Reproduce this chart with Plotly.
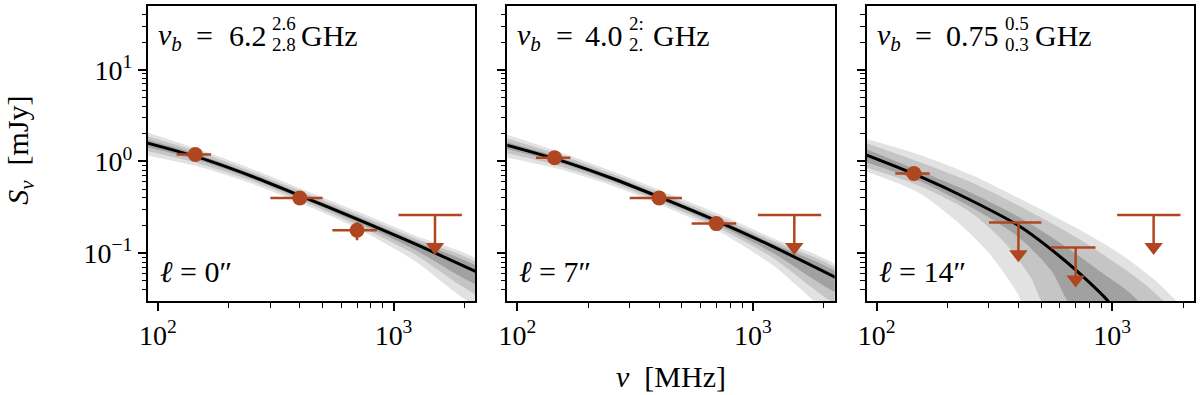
import plotly.graph_objects as go
from plotly.subplots import make_subplots

# ---------------- data ----------------
panel_labels = ["0", "7", "14"]
nub_main = ["6.2", "4.0", "0.75"]
nub_sup = ["2.6", "2:", "0.5"]
nub_sub = ["2.8", "2.", "0.3"]

# detections: frequency [MHz], half-width [MHz], flux [mJy], flux err [mJy]
p1_det_nu = [144, 400, 700]
p1_det_dnu = [24, 100, 150]
p1_det_S = [1.19, 0.40, 0.178]
p1_det_dS = [0.08, 0.03, 0.04]
p2_det_nu = [144, 400, 700]
p2_det_dnu = [24, 100, 150]
p2_det_S = [1.10, 0.40, 0.21]
p2_det_dS = [0.07, 0.03, 0.03]
p3_det_nu = [144]
p3_det_dnu = [24]
p3_det_S = [0.74]
p3_det_dS = [0.08]

# upper limits
p1_ul_nu = [1500]
p1_ul_dnu = [450]
p1_ul_S = [0.26]
p2_ul_nu = [1500]
p2_ul_dnu = [450]
p2_ul_S = [0.26]
p3_ul_nu = [400, 700, 1500]
p3_ul_dnu = [100, 150, 450]
p3_ul_S = [0.216, 0.115, 0.26]

# model median and credible bands
p12_nu = [85, 150, 250, 400, 700, 1200, 2400]
p1_med = [1.65, 1.10, 0.69, 0.425, 0.235, 0.130, 0.058]
p1_l_up = [2.17, 1.35, 0.83, 0.511, 0.286, 0.160, 0.075]
p1_l_lo = [1.19, 0.873, 0.574, 0.354, 0.187, 0.086, 0.0253]
p1_m_up = [1.96, 1.26, 0.774, 0.477, 0.267, 0.149, 0.069]
p1_m_lo = [1.34, 0.947, 0.615, 0.379, 0.202, 0.101, 0.0342]
p1_d_up = [1.79, 1.18, 0.731, 0.450, 0.251, 0.139, 0.0636]
p1_d_lo = [1.49, 1.026, 0.651, 0.401, 0.217, 0.113, 0.044]

p2_med = [1.57, 1.04, 0.66, 0.41, 0.225, 0.120, 0.050]
p2_l_up = [2.07, 1.28, 0.793, 0.493, 0.274, 0.148, 0.064]
p2_l_lo = [1.14, 0.826, 0.549, 0.341, 0.179, 0.0757, 0.019]
p2_m_up = [1.87, 1.19, 0.741, 0.46, 0.255, 0.138, 0.0595]
p2_m_lo = [1.28, 0.895, 0.588, 0.365, 0.194, 0.091, 0.0269]
p2_d_up = [1.70, 1.115, 0.699, 0.434, 0.240, 0.129, 0.0548]
p2_d_lo = [1.42, 0.970, 0.623, 0.387, 0.208, 0.103, 0.036]

p3_med_nu = [85, 150, 250, 400, 600, 800, 950, 1100]
p3_med = [1.25, 0.70, 0.38, 0.20, 0.092, 0.048, 0.031, 0.019]
p3_l_up_nu = [85, 150, 250, 400, 700, 1100, 1600, 2000]
p3_l_up = [1.85, 1.20, 0.72, 0.40, 0.19, 0.095, 0.045, 0.022]
p3_l_lo_nu = [85, 150, 220, 300, 400, 450]
p3_l_lo = [0.82, 0.46, 0.22, 0.10, 0.035, 0.018]
p3_m_up_nu = [85, 150, 250, 400, 700, 1100, 1500, 1800]
p3_m_up = [1.68, 1.00, 0.60, 0.33, 0.15, 0.07, 0.038, 0.022]
p3_m_lo_nu = [85, 150, 250, 350, 450, 550]
p3_m_lo = [0.90, 0.55, 0.28, 0.13, 0.055, 0.022]
p3_d_up_nu = [85, 150, 250, 400, 600, 900, 1200, 1400]
p3_d_up = [1.46, 0.80, 0.46, 0.25, 0.13, 0.062, 0.036, 0.022]
p3_d_lo_nu = [85, 150, 250, 400, 550, 700]
p3_d_lo = [1.03, 0.62, 0.32, 0.15, 0.065, 0.024]

x_tickvals = [100, 1000]
x_ticktext = ["10<sup>2</sup>", "10<sup>3</sup>"]
y_tickvals = [0.1, 1, 10]
y_ticktext = ["10<sup>−1</sup>", "10<sup>0</sup>", "10<sup>1</sup>"]

# ---------------- style ----------------
RUST = "#b0461f"
C_LIGHT = "#e2e2e2"
C_MID = "#c5c5c5"
C_DARK = "#a1a1a1"
FONT = "Liberation Serif"
FS = 30

fig = make_subplots(rows=1, cols=3, horizontal_spacing=32 / 1048)

panels = [
    dict(med_nu=p12_nu, med=p1_med,
         bands=[(p12_nu, p1_l_up, p12_nu, p1_l_lo, C_LIGHT),
                (p12_nu, p1_m_up, p12_nu, p1_m_lo, C_MID),
                (p12_nu, p1_d_up, p12_nu, p1_d_lo, C_DARK)],
         det=(p1_det_nu, p1_det_dnu, p1_det_S, p1_det_dS),
         ul=(p1_ul_nu, p1_ul_dnu, p1_ul_S)),
    dict(med_nu=p12_nu, med=p2_med,
         bands=[(p12_nu, p2_l_up, p12_nu, p2_l_lo, C_LIGHT),
                (p12_nu, p2_m_up, p12_nu, p2_m_lo, C_MID),
                (p12_nu, p2_d_up, p12_nu, p2_d_lo, C_DARK)],
         det=(p2_det_nu, p2_det_dnu, p2_det_S, p2_det_dS),
         ul=(p2_ul_nu, p2_ul_dnu, p2_ul_S)),
    dict(med_nu=p3_med_nu, med=p3_med,
         bands=[(p3_l_up_nu, p3_l_up, p3_l_lo_nu, p3_l_lo, C_LIGHT),
                (p3_m_up_nu, p3_m_up, p3_m_lo_nu, p3_m_lo, C_MID),
                (p3_d_up_nu, p3_d_up, p3_d_lo_nu, p3_d_lo, C_DARK)],
         det=(p3_det_nu, p3_det_dnu, p3_det_S, p3_det_dS),
         ul=(p3_ul_nu, p3_ul_dnu, p3_ul_S)),
]

ARROW = 0.45  # arrow length as a fraction of the limit (style)

for i, p in enumerate(panels):
    col = i + 1
    for (nu_up, s_up, nu_lo, s_lo, c) in p["bands"]:
        fig.add_trace(go.Scatter(
            x=list(nu_up) + list(nu_lo)[::-1],
            y=list(s_up) + list(s_lo)[::-1],
            mode="lines", fill="toself", fillcolor=c,
            line=dict(width=0, shape="spline", smoothing=0.8),
            hoverinfo="skip", showlegend=False), row=1, col=col)
    fig.add_trace(go.Scatter(
        x=p["med_nu"], y=p["med"], mode="lines",
        line=dict(color="black", width=3, shape="spline", smoothing=0.8),
        showlegend=False), row=1, col=col)
    nu, dnu, S, dS = p["det"]
    fig.add_trace(go.Scatter(
        x=nu, y=S, mode="markers",
        marker=dict(color=RUST, size=15, line=dict(width=0)),
        error_x=dict(type="data", array=dnu, color=RUST, thickness=2.5, width=0),
        error_y=dict(type="data", array=dS, color=RUST, thickness=2.5, width=0),
        showlegend=False), row=1, col=col)
    unu, udnu, uS = p["ul"]
    fig.add_trace(go.Scatter(
        x=unu, y=uS, mode="markers", marker=dict(size=1, opacity=0),
        error_x=dict(type="data", array=udnu, color=RUST, thickness=2.5, width=0),
        error_y=dict(type="data", array=[0] * len(uS),
                     arrayminus=[s * (1 - ARROW) for s in uS],
                     color=RUST, thickness=2.5, width=0),
        showlegend=False), row=1, col=col)
    fig.add_trace(go.Scatter(
        x=unu, y=[s * ARROW for s in uS], mode="markers",
        marker=dict(symbol="triangle-down", color=RUST, size=16, line=dict(width=0)),
        showlegend=False), row=1, col=col)

axis_common = dict(type="log", showline=True, mirror=True, linecolor="black",
                   linewidth=2, ticks="outside", ticklen=8, tickwidth=1.5,
                   tickcolor="black", showgrid=False, zeroline=False,
                   tickfont=dict(family=FONT, size=28, color="black"),
                   minor=dict(ticks="outside", ticklen=4.5, tickwidth=1.2,
                              tickcolor="black", dtick="D1", showgrid=False))

for i in range(3):
    xa = "xaxis" if i == 0 else f"xaxis{i+1}"
    ya = "yaxis" if i == 0 else f"yaxis{i+1}"
    fig.layout[xa].update(range=[1.9576, 3.3475], tickvals=x_tickvals,
                          ticktext=x_ticktext, **axis_common)
    fig.layout[ya].update(range=[-1.5217, 1.6957], tickvals=y_tickvals,
                          ticktext=y_ticktext, showticklabels=(i == 0),
                          **axis_common)

W = 1048.0
H = 296.0
L, B = 148.0, 301.0


def px(x):
    return (x - L) / W


def py(y):
    return (B - y) / H


def txt(x, y, s, size=FS, xanchor="left", **kw):
    return dict(x=px(x), y=py(y), xref="paper", yref="paper", xanchor=xanchor,
                yanchor="middle", showarrow=False, text=s, borderpad=0,
                font=dict(family=FONT, size=size, color="black"), **kw)


ann = []
panel_left = [148, 508, 868]
num_right = [120, 117, 134]
stack_left = [123, 121, 138]
ghz_left = [152, 145, 168]
for i in range(3):
    x0 = panel_left[i]
    ann.append(txt(x0 + 9, 36, "<i>ν<sub>b</sub></i>"))
    ann.append(txt(x0 + 57, 35, "=", xanchor="center"))
    ann.append(txt(x0 + num_right[i], 35, nub_main[i], xanchor="right"))
    ann.append(txt(x0 + stack_left[i], 23, nub_sup[i], size=19))
    ann.append(txt(x0 + stack_left[i], 44, nub_sub[i], size=19))
    ann.append(txt(x0 + ghz_left[i], 35, "GHz"))
    ann.append(txt(x0 + 11, 271, f"<i>ℓ</i> = {panel_labels[i]}″"))

ann.append(txt(19, 150, "<i>S<sub>ν</sub></i>  [mJy]", xanchor="center",
               textangle=-90))
ann.append(txt(672, 377, "<i>ν</i>  [MHz]", xanchor="center"))

fig.update_layout(width=1200, height=395, autosize=False,
                  margin=dict(l=148, r=4, t=5, b=94),
                  paper_bgcolor="white", plot_bgcolor="white",
                  annotations=ann, showlegend=False, hovermode=False)

fig.write_html("out.html", config={"displayModeBar": False},
               post_script="document.body.style.margin='0';"
                           "document.body.style.overflow='hidden';")
